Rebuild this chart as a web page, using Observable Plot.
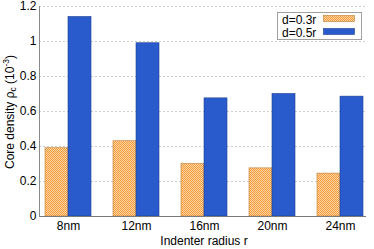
<!DOCTYPE html>
<html><head><meta charset="utf-8">
<script src="https://cdn.jsdelivr.net/npm/d3@7"></script>
<script src="https://cdn.jsdelivr.net/npm/@observablehq/plot@0.6"></script>
<style>
body{margin:0;background:#fff;}
#chart svg{font-family:"Liberation Sans",Arial,sans-serif;}
</style></head>
<body><div id="chart"></div>
<script>
const radii = ["8nm","12nm","16nm","20nm","24nm"];
const series = ["d=0.3r","d=0.5r"];
const d03 = [0.39, 0.43, 0.30, 0.275, 0.245];
const d05 = [1.14, 0.99, 0.675, 0.70, 0.685];
const yTicks = [0, 0.2, 0.4, 0.6, 0.8, 1, 1.2];

const rows03 = radii.map((r,i)=>({r, v:d03[i]}));
const rows05 = radii.map((r,i)=>({r, v:d05[i]}));

const orangeFill = "url(#chk)";
const blue = "#2a5bcc";

const plot = Plot.plot({
  width: 374, height: 249,
  marginLeft: 39, marginRight: 8, marginTop: 6, marginBottom: 33,
  style: {fontFamily: '"Liberation Sans",Arial,sans-serif', fontSize: "12px", color: "#000", background: "#fff"},
  x: {domain: radii, range: [32.75, 375.25], paddingInner: 0.328, paddingOuter: 0.164, label: null},
  y: {domain: [0, 1.2], label: null},
  marks: [
    Plot.gridY(yTicks, {stroke: "#cfcfcf", strokeOpacity: 1, strokeDasharray: "2,2"}),
    Plot.barY(rows03, {x: "r", y: "v", fill: orangeFill, stroke: "#c07a30", strokeWidth: 0.6, insetRight: 23}),
    Plot.barY(rows05, {x: "r", y: "v", fill: blue, stroke: "#1d3f93", strokeWidth: 0.6, insetLeft: 23}),
    Plot.axisY(yTicks, {tickSize: 0, tickPadding: 3, tickFormat: d => String(d), fontSize: 12, label: null}),
    Plot.axisX({tickSize: 0, tickPadding: 5, fontSize: 12, label: null}),
    Plot.ruleY([0], {stroke: "#7a7a7a"})
  ]
});
document.getElementById("chart").appendChild(plot);

const svg = d3.select(plot);
const defs = svg.insert("defs", ":first-child");
const pat = defs.append("pattern").attr("id","chk").attr("width",2).attr("height",2).attr("patternUnits","userSpaceOnUse");
pat.append("rect").attr("width",2).attr("height",2).attr("fill","#fdd6a6");
pat.append("rect").attr("x",0).attr("y",0).attr("width",1).attr("height",1).attr("fill","#f49a3a");
pat.append("rect").attr("x",1).attr("y",1).attr("width",1).attr("height",1).attr("fill","#f49a3a");

// y axis line from the y scale's range
const yr = plot.scale("y").range;
svg.append("line").attr("x1",39.5).attr("x2",39.5).attr("y1",yr[0]).attr("y2",yr[1])
  .attr("stroke","#8a8a8a");

// y label
const yl = svg.append("text").attr("transform","translate(14,112) rotate(-90)")
  .attr("text-anchor","middle").attr("font-size",12).attr("fill","#000");
yl.append("tspan").text("Core density ρ");
yl.append("tspan").attr("font-size",8.5).attr("dy",2).text("c");
yl.append("tspan").attr("dy",-2).text(" (10");
yl.append("tspan").attr("font-size",8.5).attr("dy",-5).text("-3");
yl.append("tspan").attr("dy",5).text(")");

// x label
svg.append("text").attr("x",204).attr("y",245).attr("text-anchor","middle")
  .attr("font-size",12).attr("fill","#000").text("Indenter radius r");

// legend
const lg = svg.append("g").attr("text-anchor","start");
lg.append("rect").attr("x",277.5).attr("y",12.5).attr("width",84).attr("height",27)
  .attr("fill","#fff").attr("stroke","#a0a0a0");
const fills = [orangeFill, blue], strokes = ["#c07a30","#1d3f93"];
series.forEach((s,i)=>{
  const y0 = 15 + i*13;
  lg.append("text").attr("x",282).attr("y",y0+8.5).attr("text-anchor","start")
    .attr("font-size",12).attr("fill","#000").text(s);
  lg.append("rect").attr("x",323.5).attr("y",y0+0.5).attr("width",31).attr("height",6)
    .attr("fill",fills[i]).attr("stroke",strokes[i]).attr("stroke-width",0.6);
});
</script></body></html>
